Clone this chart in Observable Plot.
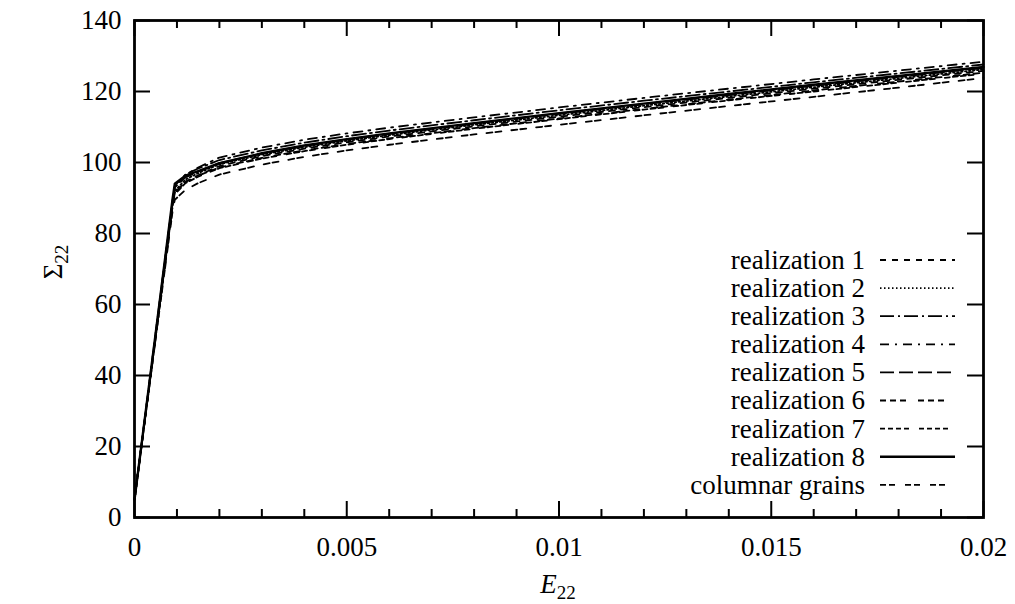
<!DOCTYPE html>
<html><head><meta charset="utf-8">
<script src="https://cdn.jsdelivr.net/npm/d3@7"></script>
<script src="https://cdn.jsdelivr.net/npm/@observablehq/plot@0.6"></script>
<style>body{margin:0;background:#fff}#chart{width:1015px;height:604px}</style>
</head><body><div id="chart"></div>
<script>
// ---- data ----
const strain = [0, 0.0005, 0.0009, 0.00095, 0.0012, 0.0015, 0.002, 0.003, 0.004, 0.005, 0.006, 0.008, 0.01, 0.012, 0.014, 0.016, 0.018, 0.02];
const seriesNames = ["realization 1", "realization 2", "realization 3", "realization 4", "realization 5", "realization 6", "realization 7", "realization 8", "columnar grains"];
const real1 = [5, 51, 88, 91.5, 94.5, 96.4, 99.0, 101.8, 103.9, 105.7, 107.3, 110.2, 112.9, 115.6, 118.2, 120.8, 123.3, 125.8];
const real2 = [5, 51.5, 88.5, 92, 95.2, 97.0, 99.5, 102.2, 104.3, 106.1, 107.7, 110.6, 113.3, 116.0, 118.6, 121.2, 123.7, 126.2];
const real3 = [5, 52, 89.5, 93.5, 96.6, 98.3, 100.7, 103.4, 105.6, 107.4, 109.0, 111.9, 114.7, 117.4, 120.0, 122.6, 125.1, 127.6];
const real4 = [5, 52, 89.5, 93, 96.5, 98.6, 101.4, 104.2, 106.4, 108.2, 109.8, 112.7, 115.5, 118.2, 120.8, 123.4, 125.9, 128.4];
const real5 = [5, 51.5, 89, 93, 95.8, 97.4, 99.8, 102.5, 104.6, 106.4, 108.0, 110.9, 113.7, 116.4, 119.0, 121.6, 124.1, 126.6];
const real6 = [5, 51, 88, 91.5, 94.6, 96.3, 98.6, 101.3, 103.4, 105.2, 106.8, 109.7, 112.4, 115.1, 117.7, 120.3, 122.8, 125.3];
const real7 = [5, 51, 88, 91, 94.2, 96.0, 98.4, 101.1, 103.2, 105.0, 106.6, 109.5, 112.2, 114.9, 117.5, 120.0, 122.5, 125.0];
const real8 = [5, 52, 90, 94, 96.3, 97.6, 99.8, 102.6, 104.8, 106.6, 108.2, 111.1, 113.9, 116.6, 119.3, 121.9, 124.4, 126.9];
const columnar = [5, 50.5, 86.5, 89.5, 92.3, 94.2, 96.6, 99.4, 101.6, 103.4, 105.0, 107.9, 110.6, 113.3, 115.9, 118.5, 121.1, 123.8];
const stressSeries = [real1, real2, real3, real4, real5, real6, real7, real8, columnar];

const xMajorTicks = [0, 0.005, 0.01, 0.015, 0.02];
const xTickLabels = ["0", "0.005", "0.01", "0.015", "0.02"];
const xMinorTicks = [0.001, 0.002, 0.003, 0.004, 0.006, 0.007, 0.008, 0.009, 0.011, 0.012, 0.013, 0.014, 0.016, 0.017, 0.018, 0.019];
const yTicks = [0, 20, 40, 60, 80, 100, 120, 140];
const yTickLabels = ["0", "20", "40", "60", "80", "100", "120", "140"];

// ---- styles ----
const dashStyles = ["6,6", "1.5,2.5", "14,4,2,4", "9,6,2,6", "14,5", "6,4,6,4,6,12", "5,3,5,3,5,3,5,10", null, "6,3,6,10"];
const lineWidths = [1.8, 1.8, 1.8, 1.8, 1.8, 1.8, 1.8, 2.4, 1.8];

const W = 1015, H = 604;
const mL = 134, mR = 32, mT = 20, mB = 87;
const frameH = H - mT - mB, frameW = W - mL - mR;
const FONT = "'Liberation Serif', 'Times New Roman', serif";
const FS = 27;

const rows = [];
stressSeries.forEach((arr, i) => arr.forEach((s, j) => rows.push({series: seriesNames[i], e: strain[j], s})));

const lineMarks = seriesNames.map((name, i) =>
  Plot.line(rows.filter(r => r.series === name), {
    x: "e", y: "s", stroke: "black", strokeWidth: lineWidths[i],
    strokeDasharray: dashStyles[i] || undefined, strokeLinejoin: "round"
  })
);

const chart = Plot.plot({
  width: W, height: H,
  marginLeft: mL, marginRight: mR, marginTop: mT, marginBottom: mB,
  style: {fontFamily: FONT, fontSize: FS + "px", background: "white", color: "black"},
  x: {domain: [0, 0.02], label: null},
  y: {domain: [0, 140], label: null},
  marks: [
    ...lineMarks,
    // inward ticks
    Plot.ruleX(xMajorTicks, {x: d => d, insetTop: frameH - 16, stroke: "black", strokeWidth: 2}),
    Plot.ruleX(xMajorTicks, {x: d => d, insetBottom: frameH - 16, stroke: "black", strokeWidth: 2}),
    Plot.ruleX(xMinorTicks, {x: d => d, insetTop: frameH - 8, stroke: "black", strokeWidth: 2}),
    Plot.ruleX(xMinorTicks, {x: d => d, insetBottom: frameH - 8, stroke: "black", strokeWidth: 2}),
    Plot.ruleY(yTicks, {y: d => d, insetRight: frameW - 16, stroke: "black", strokeWidth: 2}),
    Plot.ruleY(yTicks, {y: d => d, insetLeft: frameW - 16, stroke: "black", strokeWidth: 2}),
    Plot.axisX(xMajorTicks, {tickSize: 0, tickPadding: 19, tickFormat: (d, i) => xTickLabels[i], fontSize: FS, label: null}),
    Plot.axisY(yTicks, {tickSize: 0, tickPadding: 13, tickFormat: (d, i) => yTickLabels[i], fontSize: FS, label: null}),
    Plot.frame({stroke: "black", strokeWidth: 2.8})
  ]
});
document.getElementById("chart").appendChild(chart);

// ---- legend and axis titles ----
const svg = d3.select(chart);
const leg = svg.append("g").attr("font-family", FONT).attr("font-size", FS).attr("fill", "black");
const legRight = W - mR - 118, legTop = 260, legStep = 28.1;
seriesNames.forEach((name, i) => {
  const cy = legTop + i * legStep;
  leg.append("text").attr("x", legRight).attr("y", cy).attr("dy", "0.33em").attr("text-anchor", "end").text(name);
  leg.append("line").attr("x1", legRight + 15).attr("x2", legRight + 90).attr("y1", cy).attr("y2", cy)
    .attr("stroke", "black").attr("stroke-width", lineWidths[i])
    .attr("stroke-dasharray", dashStyles[i] || null);
});

const yt = svg.append("text").attr("font-family", FONT).attr("font-size", FS)
  .attr("text-anchor", "middle").attr("transform", "translate(62,262) rotate(-90)");
yt.append("tspan").text("Σ");
yt.append("tspan").attr("font-size", 19).attr("dy", 6).text("22");

const xt = svg.append("text").attr("font-family", FONT).attr("font-size", FS)
  .attr("text-anchor", "middle").attr("x", 558).attr("y", 593);
xt.append("tspan").attr("font-style", "italic").text("E");
xt.append("tspan").attr("font-size", 19).attr("dy", 6).text("22");
</script>
</body></html>
